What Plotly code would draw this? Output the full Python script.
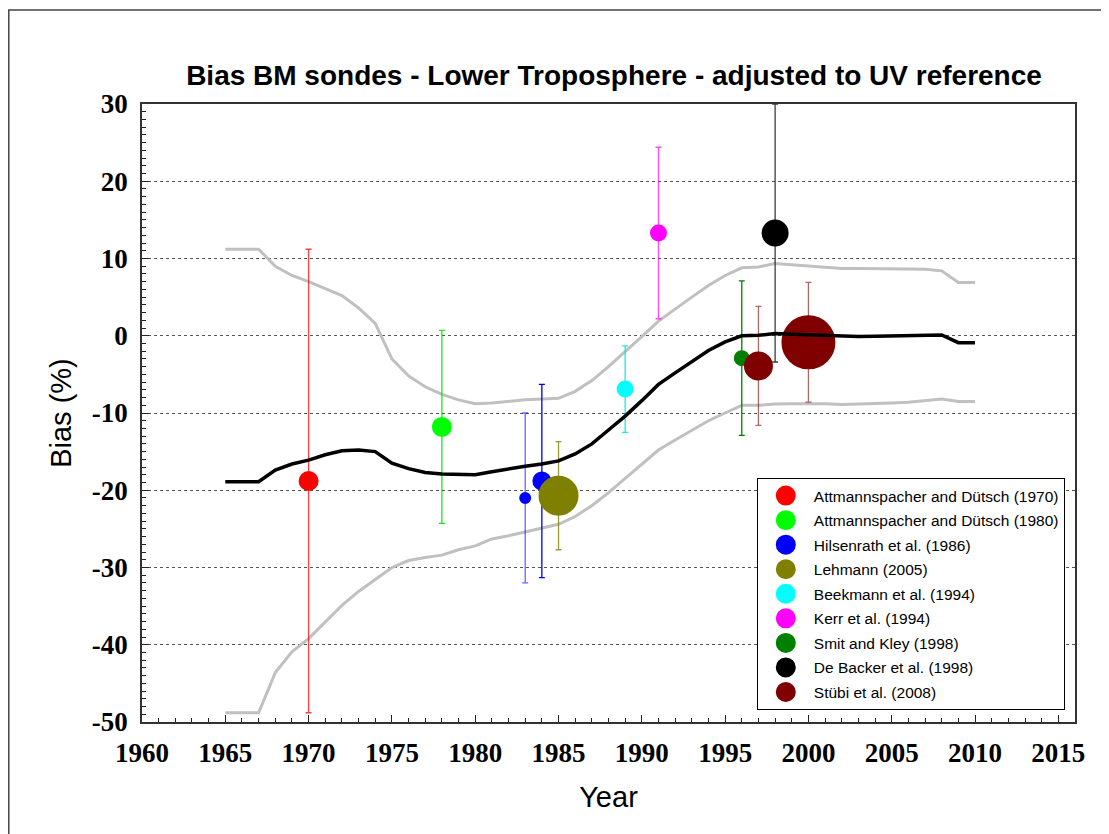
import plotly.graph_objects as go

# ---------------- data ----------------
years = list(range(1965, 2011))
mean_bias = [-18.9, -18.9, -18.9, -17.4, -16.6, -16.1, -15.4, -14.9, -14.8, -15.0,
             -16.5, -17.2, -17.7, -17.9, -18.0, -18.0, -17.6, -17.2, -16.9, -16.6,
             -16.2, -15.3, -14.0, -12.2, -10.4, -8.4, -6.3, -4.8, -3.3, -1.9,
             -0.8, 0.0, 0.05, 0.3, 0.2, 0.1, 0.0, -0.1, -0.1, -0.05,
             0.0, 0.0, 0.1, 0.1, -0.9, -0.9]
upper_bound = [11.2, 11.2, 11.2, 9.0, 7.8, 7.0, 6.1, 5.2, 3.6, 1.6,
               -3.0, -5.2, -6.6, -7.6, -8.3, -8.8, -8.7, -8.5, -8.3, -8.2,
               -8.1, -7.2, -5.8, -4.0, -2.1, -0.1, 1.9, 3.5, 5.0, 6.5,
               7.8, 8.8, 8.9, 9.35, 9.2, 9.0, 8.85, 8.7, 8.7, 8.7,
               8.7, 8.65, 8.6, 8.4, 6.9, 6.9]
lower_bound = [-48.8, -48.8, -48.8, -43.6, -40.9, -39.2, -37.0, -34.9, -33.1, -31.6,
               -30.0, -29.1, -28.7, -28.4, -27.7, -27.2, -26.3, -25.9, -25.4, -24.9,
               -24.4, -23.4, -22.0, -20.3, -18.5, -16.6, -14.8, -13.5, -12.2, -11.0,
               -10.0, -9.0, -9.0, -8.85, -8.8, -8.8, -8.8, -8.9, -8.85, -8.8,
               -8.7, -8.6, -8.4, -8.2, -8.5, -8.5]

study_names = ["Attmannspacher and Dütsch (1970)", "Attmannspacher and Dütsch (1980)",
               "Hilsenrath et al. (1986)", "Hilsenrath et al. (1986)", "Lehmann (2005)",
               "Beekmann et al. (1994)", "Kerr et al. (1994)", "Smit and Kley (1998)",
               "De Backer et al. (1998)", "Stübi et al. (2008)", "Stübi et al. (2008)"]
study_year = [1970, 1978, 1984, 1983, 1985, 1989, 1991, 1996, 1998, 1997, 2000]
study_bias = [-18.8, -11.8, -18.8, -21.0, -20.7, -6.9, 13.3, -2.9, 13.3, -3.9, -0.85]
study_err = [30.0, 12.5, 12.5, 11.0, 7.0, 5.6, 11.1, 10.0, 16.7, 7.7, 7.75]
study_size = [20, 20, 19, 12, 40, 17, 17, 16, 27, 29, 54]  # marker diameters (px)
study_color = ["#ff0000", "#00ff00", "#0000ff", "#0000ff", "#808000", "#00ffff",
               "#ff00ff", "#008000", "#000000", "#800000", "#800000"]
err_color = ["rgba(255,0,0,0.75)", "rgba(0,230,0,0.9)", "rgba(0,0,230,1)",
             "rgba(0,0,255,0.6)", "rgba(128,128,0,0.8)", "rgba(0,230,230,0.9)",
             "rgba(255,0,255,0.7)", "rgba(0,128,0,1)", "rgba(40,40,40,0.9)",
             "rgba(128,0,0,0.6)", "rgba(128,0,0,0.6)"]

x_ticks = list(range(1960, 2016, 5))
x_ticktext = [str(v) for v in x_ticks]
y_ticks = list(range(-50, 31, 10))
y_ticktext = [str(v) for v in y_ticks]  # plain hyphen-minus as in the original

# ---------------- figure ----------------
fig = go.Figure()

fig.add_trace(go.Scatter(x=years, y=upper_bound, mode="lines",
                         line=dict(color="#c0c0c0", width=3), showlegend=False,
                         hoverinfo="skip"))
fig.add_trace(go.Scatter(x=years, y=lower_bound, mode="lines",
                         line=dict(color="#c0c0c0", width=3), showlegend=False,
                         hoverinfo="skip"))

OUTLINE = 4  # same-colour outline, lets legend symbols reach ~20 px
seen = set()
for i, name in enumerate(study_names):
    fig.add_trace(go.Scatter(
        x=[study_year[i]], y=[study_bias[i]], mode="markers", name=name,
        legendgroup=name, showlegend=False,
        marker=dict(color=study_color[i], size=study_size[i] - OUTLINE,
                    line=dict(width=OUTLINE, color=study_color[i])),
        error_y=dict(type="data", array=[study_err[i]], visible=True,
                     color=err_color[i], thickness=1.3, width=3)))
    if name not in seen:
        # legend-only entry (uniform symbol size as in the original legend)
        fig.add_trace(go.Scatter(
            x=[None], y=[None], mode="markers", name=name, legendgroup=name,
            showlegend=True,
            marker=dict(color=study_color[i], size=16,
                        line=dict(width=OUTLINE, color=study_color[i]))))
    seen.add(name)

fig.add_trace(go.Scatter(x=years, y=mean_bias, mode="lines",
                         line=dict(color="#000000", width=3.5), showlegend=False))

tickfont = dict(family="Liberation Serif, Times New Roman, serif", size=27,
                color="black", weight="bold")

W, H = 1101, 826
L, T, B, R = 134, 96, 112, 34

fig.update_layout(
    width=W, height=H,
    margin=dict(l=L, r=R, t=T, b=B),
    paper_bgcolor="white", plot_bgcolor="white",
    title=dict(text="Bias BM sondes - Lower Troposphere - adjusted to UV reference",
               font=dict(family="Liberation Sans, Arial, sans-serif", size=28,
                         color="black", weight="bold"),
               x=606 / W, xref="container", xanchor="center",
               y=1 - 67 / H, yref="container", yanchor="middle"),
    xaxis=dict(range=[1960, 2016], tickvals=x_ticks, ticktext=x_ticktext,
               ticks="inside", ticklen=7,
               tickcolor="#222", tickwidth=1, showgrid=False, zeroline=False,
               showline=True, linecolor="#333", linewidth=1.5, mirror=True,
               tickfont=tickfont, ticklabelstandoff=6,
               minor=dict(dtick=1, ticks="inside", ticklen=4, tickcolor="#222",
                          showgrid=False),
               title=dict(text="Year", standoff=20,
                          font=dict(family="Liberation Sans, Arial, sans-serif",
                                    size=29, color="black"))),
    yaxis=dict(range=[-50, 30], tickvals=y_ticks, ticktext=y_ticktext,
               ticks="inside", ticklen=7,
               tickcolor="#222", tickwidth=1, showgrid=True, gridcolor="#555",
               griddash="dot", gridwidth=1, zeroline=False,
               showline=True, linecolor="#333", linewidth=1.5, mirror=True,
               tickfont=tickfont, ticklabelstandoff=7,
               minor=dict(dtick=1, ticks="inside", ticklen=4, tickcolor="#222",
                          showgrid=False),
               title=dict(text="Bias (%)", standoff=12,
                          font=dict(family="Liberation Sans, Arial, sans-serif",
                                    size=29, color="black"))),
    legend=dict(x=(749 - L) / 933.3, y=(714 - 470) / 618, xanchor="left", yanchor="top",
                bgcolor="white", bordercolor="black", borderwidth=1,
                font=dict(family="Liberation Sans, Arial, sans-serif", size=15.5,
                          color="black"),
                traceorder="grouped", tracegroupgap=1.4, itemwidth=46,
                itemsizing="trace"),
    shapes=[dict(type="rect", xref="paper", yref="paper",
                 x0=(0.75 - L) / 933.3, x1=1.2, y0=-0.4, y1=(714 - 2) / 618,
                 line=dict(color="#444", width=1.5), layer="below")],
)

fig.write_html("out.html")
